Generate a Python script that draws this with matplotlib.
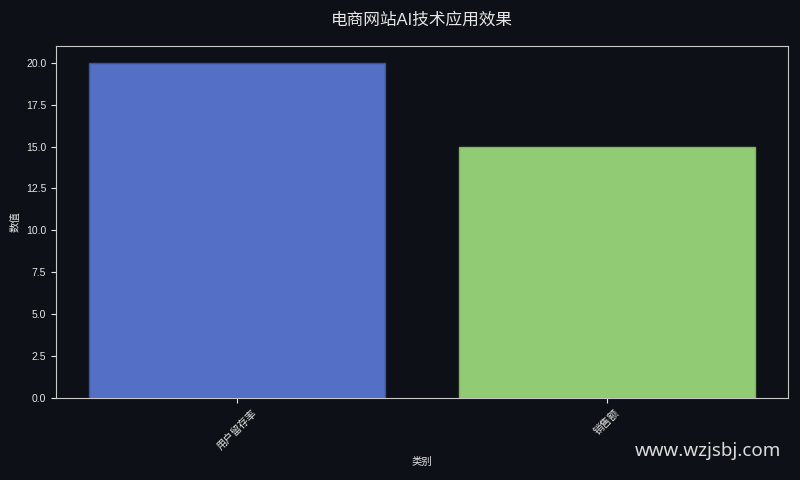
import matplotlib
matplotlib.use('Agg')
import matplotlib.pyplot as plt

plt.rcParams['font.family'] = ['Liberation Sans', 'Noto Sans CJK SC', 'DejaVu Sans']

categories = ['用户留存率', '销售额']
values = [20, 15]
colors = ['#5470c6', '#91cc75']
edges = ['#3d5494', '#7fb364']

bg = '#0d1017'
fg = '#e6e6e6'

fig = plt.figure(figsize=(8, 4.8), dpi=100, facecolor=bg)
ax = fig.add_axes([0.07, 0.171, 0.915, 0.733])
ax.set_facecolor(bg)

ax.bar(range(len(categories)), values, width=0.8, color=colors, edgecolor=edges, linewidth=1)
ax.set_xlim(-0.49, 1.49)
ax.set_ylim(0, 21)
ax.set_yticks([0, 2.5, 5, 7.5, 10, 12.5, 15, 17.5, 20])
ax.set_yticklabels(['{:.1f}'.format(v) for v in ax.get_yticks()])
ax.set_xticks(range(len(categories)))
ax.set_xticklabels(categories, rotation=45)

for s in ax.spines.values():
    s.set_color('#c8c8c8')
ax.tick_params(colors=fg, labelsize=7.5)
ax.set_xlabel('类别', color=fg, fontsize=7.5)
ax.set_ylabel('数值', color=fg, fontsize=7.5)

fig.suptitle('电商网站AI技术应用效果', color=fg, fontsize=12, x=0.5275, y=0.975)
fig.text(0.976, 0.042, 'www.wzjsbj.com', color='#dcdcdc', fontsize=13.5,
         ha='right', va='bottom', family='Noto Sans')

fig.savefig('out.png', facecolor=bg)
